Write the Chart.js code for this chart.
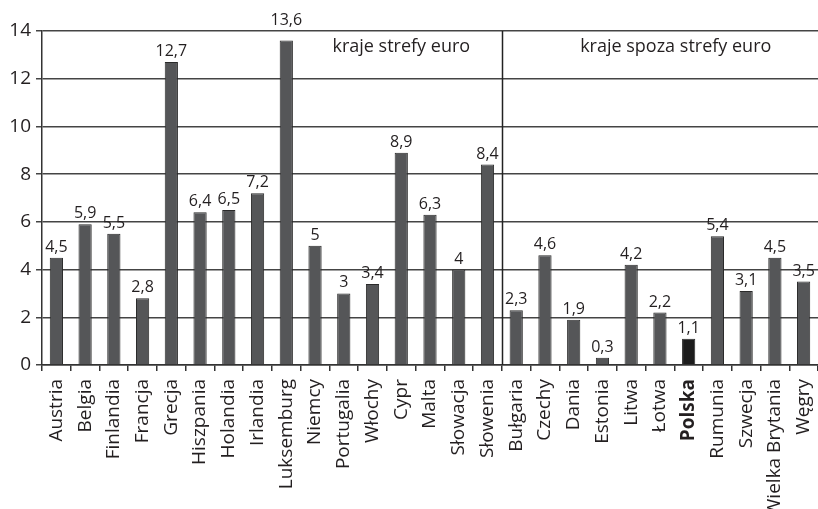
<!DOCTYPE html>
<html>
<head>
<meta charset="utf-8">
<script src="https://cdn.jsdelivr.net/npm/chart.js@4"></script>
<style>
  html, body { margin: 0; padding: 0; background: #fff; }
  #wrap { width: 818px; height: 509px; }
</style>
</head>
<body>
<div id="wrap"><canvas id="chart"></canvas></div>
<script>
const countries = [
  "Austria", "Belgia", "Finlandia", "Francja", "Grecja", "Hiszpania", "Holandia",
  "Irlandia", "Luksemburg", "Niemcy", "Portugalia", "Włochy", "Cypr", "Malta",
  "Słowacja", "Słowenia",
  "Bułgaria", "Czechy", "Dania", "Estonia", "Litwa", "Łotwa", "Polska",
  "Rumunia", "Szwecja", "Wielka Brytania", "Węgry"
];
const values = [
  4.5, 5.9, 5.5, 2.8, 12.7, 6.4, 6.5, 7.2, 13.6, 5, 3, 3.4, 8.9, 6.3, 4, 8.4,
  2.3, 4.6, 1.9, 0.3, 4.2, 2.2, 1.1, 5.4, 3.1, 4.5, 3.5
];
const euroCount = 16; // first 16 countries are in the euro zone
const groupTitles = ["kraje strefy euro", "kraje spoza strefy euro"];
const yTicks = [0, 2, 4, 6, 8, 10, 12, 14];
const highlight = "Polska";

const FONT = "'Open Sans', 'DejaVu Sans', sans-serif";
const INK = "#231f20";

const fmt = v => String(v).replace(".", ",");

// value labels, the euro / non-euro divider and the two group titles
const extras = {
  id: "extras",
  afterDatasetsDraw(chart) {
    const { ctx, chartArea, scales } = chart;
    const x = scales.x;
    const meta = chart.getDatasetMeta(0);
    ctx.save();
    ctx.fillStyle = INK;
    ctx.font = "16px " + FONT;
    ctx.textAlign = "center";
    ctx.textBaseline = "alphabetic";
    meta.data.forEach((bar, i) => {
      let y = bar.y - 6;
      // keep the label off the top grid line when the bar is too tall
      if (y - 12 < chartArea.top + 2) y = chartArea.top - 6;
      ctx.fillText(fmt(values[i]), bar.x, y);
    });

    const divX = Math.round(x.getPixelForValue(euroCount - 0.5)) + 0.5;
    ctx.strokeStyle = "#222";
    ctx.lineWidth = 1.5;
    ctx.beginPath();
    ctx.moveTo(divX, chartArea.top);
    ctx.lineTo(divX, chartArea.bottom);
    ctx.stroke();

    ctx.font = "18px " + FONT;
    ctx.textBaseline = "middle";
    const ty = chartArea.top + 16;
    ctx.fillText(groupTitles[0], x.getPixelForValue(12), ty);
    ctx.fillText(groupTitles[1], x.getPixelForValue(21.55), ty);
    ctx.restore();
  }
};

new Chart(document.getElementById("chart"), {
  type: "bar",
  data: {
    labels: countries,
    datasets: [{
      data: values,
      backgroundColor: countries.map(c => c === highlight ? "#1c1c1c" : "#555658"),
      borderColor: "#2a2a2a",
      borderWidth: 1,
      barPercentage: 0.46,
      categoryPercentage: 1
    }]
  },
  options: {
    responsive: true,
    maintainAspectRatio: false,
    animation: false,
    layout: { padding: { top: 31, right: -2, left: 0, bottom: 0 } },
    plugins: {
      legend: { display: false },
      tooltip: { enabled: false }
    },
    scales: {
      x: {
        afterFit: axis => {
          axis.height = 144;
          axis.paddingLeft = 0;
          axis.paddingRight = 0;
        },
        border: { color: "#333", width: 1.5 },
        grid: { drawOnChartArea: false, color: "#333", lineWidth: 1.5, tickLength: 6 },
        ticks: {
          color: INK,
          maxRotation: 90,
          minRotation: 90,
          autoSkip: false,
          padding: 8,
          font: ctx => ({
            family: FONT,
            size: 19,
            weight: countries[ctx.index] === highlight ? "bold" : "normal"
          })
        }
      },
      y: {
        min: 0,
        max: 14,
        afterFit: axis => { axis.width = 42; },
        afterBuildTicks: axis => { axis.ticks = yTicks.map(v => ({ value: v })); },
        border: { color: "#333", width: 1.5 },
        grid: { color: "#444", lineWidth: 1.5, tickLength: 6 },
        ticks: {
          color: INK,
          padding: 5,
          font: { family: FONT, size: 19 }
        }
      }
    }
  },
  plugins: [extras]
});
</script>
</body>
</html>
